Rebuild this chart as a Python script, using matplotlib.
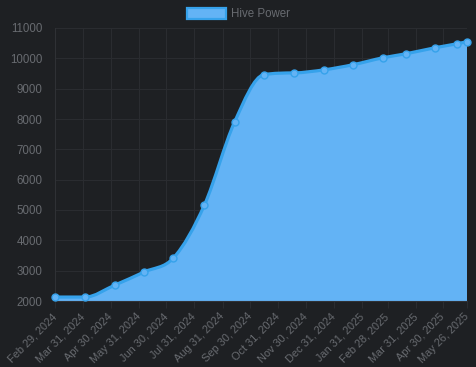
import numpy as np
import pandas as pd
import matplotlib
matplotlib.use('Agg')
import matplotlib.pyplot as plt
import matplotlib.dates as mdates
from matplotlib.path import Path
from matplotlib.patches import PathPatch, Patch

plt.rcParams['font.family'] = ['Liberation Sans', 'DejaVu Sans']

# data
dates = ['2024-02-29', '2024-04-02', '2024-05-05', '2024-06-06', '2024-07-08',
         '2024-08-11', '2024-09-13', '2024-10-15', '2024-11-17', '2024-12-20',
         '2025-01-21', '2025-02-23', '2025-03-20', '2025-04-21', '2025-05-15',
         '2025-05-26']
hive_power = [2130, 2130, 2530, 2960, 3420,
              5170, 7900, 9460, 9520, 9620,
              9790, 10020, 10150, 10350, 10480,
              10550]
tick_dates = ['2024-02-29', '2024-03-31', '2024-04-30', '2024-05-31', '2024-06-30',
              '2024-07-31', '2024-08-31', '2024-09-30', '2024-10-31', '2024-11-30',
              '2024-12-31', '2025-01-31', '2025-02-28', '2025-03-31', '2025-04-30',
              '2025-05-26']
yticks = list(range(2000, 11001, 1000))

BG = '#1e2023'
GRID = '#2a2c30'
TXT = '#686b70'
LINE = '#36a2eb'
FILL = '#63b3f5'


def monotone_path(px, py):
    # monotone cubic (Fritsch-Carlson) like chart.js 'monotone' mode
    px, py = np.asarray(px, float), np.asarray(py, float)
    n = len(px)
    dx = np.diff(px)
    delta = np.diff(py) / dx
    m = np.zeros(n)
    m[0], m[-1] = delta[0], delta[-1]
    for i in range(1, n - 1):
        m[i] = 0 if delta[i - 1] * delta[i] <= 0 else (delta[i - 1] + delta[i]) / 2
    for i in range(n - 1):
        if delta[i] == 0:
            m[i] = m[i + 1] = 0
            continue
        a, b = m[i] / delta[i], m[i + 1] / delta[i]
        s = a * a + b * b
        if s > 9:
            t = 3 / np.sqrt(s)
            m[i], m[i + 1] = t * a * delta[i], t * b * delta[i]
    verts = [(px[0], py[0])]
    codes = [Path.MOVETO]
    for i in range(n - 1):
        h = dx[i] / 3
        verts += [(px[i] + h, py[i] + m[i] * h),
                  (px[i + 1] - h, py[i + 1] - m[i + 1] * h),
                  (px[i + 1], py[i + 1])]
        codes += [Path.CURVE4] * 3
    return verts, codes


fig = plt.figure(figsize=(4.77, 3.67), dpi=100, facecolor=BG)
ax = fig.add_axes([55 / 477, 1 - 301 / 367, 412 / 477, 273 / 367])
ax.set_facecolor(BG)

x = mdates.date2num(pd.to_datetime(dates))
xt = mdates.date2num(pd.to_datetime(tick_dates))
ax.set_xlim(xt[0], xt[-1])
ax.set_ylim(2000, 11000)

disp = ax.transData.transform(np.column_stack([x, hive_power]))
verts, codes = monotone_path(disp[:, 0], disp[:, 1])
verts = ax.transData.inverted().transform(np.array(verts))
curve = Path(verts, codes)

fill_verts = np.vstack([verts, [[x[-1], 2000], [x[0], 2000], verts[0]]])
fill_codes = list(codes) + [Path.LINETO, Path.LINETO, Path.CLOSEPOLY]
ax.add_patch(PathPatch(Path(fill_verts, fill_codes), facecolor=FILL,
                       edgecolor='none', zorder=2))
ax.add_patch(PathPatch(curve, facecolor='none', edgecolor=LINE, lw=2.3,
                       zorder=3, capstyle='round', joinstyle='round'))
ax.plot(x, hive_power, 'o', ms=5, mfc=FILL, mec=LINE, mew=1.0, zorder=4,
        clip_on=False)

ax.set_xticks(xt)
ax.set_xticklabels([pd.Timestamp(d).strftime('%b %d, %Y') for d in tick_dates],
                   rotation=45, ha='right', va='center', rotation_mode='anchor')
ax.set_yticks(yticks)
ax.grid(True, color=GRID, lw=0.8, zorder=0)
ax.tick_params(axis='both', colors=GRID, labelcolor=TXT, labelsize=8.3,
               length=5, width=0.8)
ax.tick_params(axis='y', length=0, pad=9)
ax.tick_params(axis='x', pad=5, labelsize=7.9)
for side, sp in ax.spines.items():
    sp.set_visible(side in ('left', 'bottom'))
    sp.set_color('#2f3135')
    sp.set_linewidth(0.8)

leg_handle = Patch(facecolor=FILL, edgecolor=LINE, lw=1.6)
fig.legend([leg_handle], ['Hive Power'], loc='center', bbox_to_anchor=(0.5, 1 - 14 / 367),
           frameon=False, fontsize=8.3, labelcolor=TXT, handlelength=3.4,
           handleheight=1.1, handletextpad=0.5)

fig.savefig('out.png', dpi=100, facecolor=BG)
